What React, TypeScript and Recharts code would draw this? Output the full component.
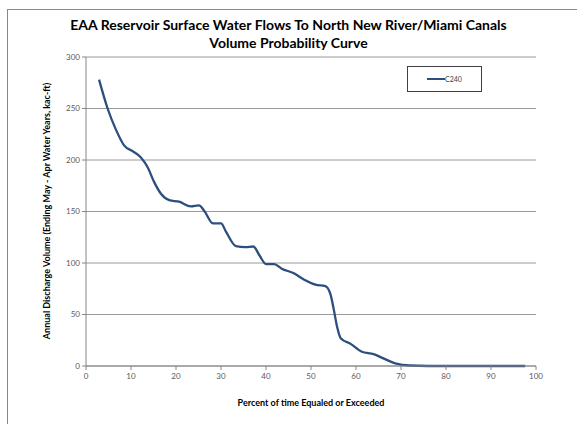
import { CartesianGrid, Legend, Line, LineChart, XAxis, YAxis } from "recharts";

const percentExceeded = [
  2.9, 4.8, 6.6, 8.5, 10.4, 12.2, 13.7, 15.1, 16.7, 18.5, 20.7, 23.3, 25.1,
  26.3, 28.2, 30.0, 31.1, 33.3, 35.4, 37.2, 38.6, 40.0, 41.8, 43.5, 46.2,
  48.4, 51.0, 53.2, 54.3, 55.1, 55.8, 56.6, 58.8, 61.3, 63.9, 66.1, 68.7,
  72.0, 80.0, 90.0, 97.6,
];
const c240Volume = [
  278, 250, 230, 214, 208.5, 202.5, 193, 179, 167, 161, 159.5, 155, 156,
  150.5, 138.5, 138.5, 130.5, 116.5, 115.5, 116, 107, 99, 99, 94.5, 90,
  84, 79, 77.5, 70, 54, 38, 27, 21.5, 13.8, 11.5, 7.4, 2.6, 0.5, 0, 0, 0,
];
const xTicks = [0, 10, 20, 30, 40, 50, 60, 70, 80, 90, 100];
const yTicks = [0, 50, 100, 150, 200, 250, 300];

const chartData = percentExceeded.map((pct, i) => ({
  pct,
  c240: c240Volume[i],
}));

const LINE_COLOR = "#2c4f7e";
const AXIS_COLOR = "#868686";
const TICK_STYLE = { fill: "#595959", fontSize: 8, fontFamily: "Lato" };

function LegendBox() {
  return (
    <div
      style={{
        width: 73,
        height: 24,
        border: "1px solid #404040",
        background: "#fff",
        display: "flex",
        alignItems: "center",
        justifyContent: "center",
        fontFamily: "Lato",
        fontSize: 7,
        color: "#404040",
      }}
    >
      <span
        style={{
          display: "inline-block",
          width: 18,
          height: 2,
          background: LINE_COLOR,
        }}
      />
      <span>C240</span>
    </div>
  );
}

export default function App() {
  return (
    <div
      style={{
        position: "absolute",
        left: 0,
        top: 0,
        width: 577,
        height: 424,
        overflow: "hidden",
        background: "#fff",
        fontFamily: "Lato",
      }}
    >
      <div
        style={{
          position: "absolute",
          left: 7,
          top: 9,
          width: 620,
          height: 460,
          border: "1px solid #888",
        }}
      />
      <div
        style={{
          position: "absolute",
          left: 0,
          top: 16,
          width: 577,
          textAlign: "center",
          fontWeight: 700,
          fontSize: 14,
          lineHeight: "18px",
          color: "#000",
        }}
      >
        EAA Reservoir Surface Water Flows To North New River/Miami Canals
        <br />
        Volume Probability Curve
      </div>
      <div
        style={{
          position: "absolute",
          left: 47 - 150,
          top: 211 - 6,
          width: 300,
          height: 12,
          textAlign: "center",
          fontWeight: 700,
          fontSize: 9,
          lineHeight: "12px",
          transform: "rotate(-90deg)",
          color: "#000",
        }}
      >
        Annual Discharge Volume (Ending May - Apr Water Years, kac-ft)
      </div>
      <div
        style={{
          position: "absolute",
          left: 161,
          top: 397,
          width: 300,
          textAlign: "center",
          fontWeight: 700,
          fontSize: 9,
          lineHeight: "12px",
          color: "#000",
        }}
      >
        Percent of time Equaled or Exceeded
      </div>
      <div style={{ position: "absolute", left: 0, top: 0 }}>
        <LineChart
          width={577}
          height={424}
          data={chartData}
          margin={{ top: 57, right: 41, bottom: 28, left: 56 }}
        >
          <CartesianGrid
            horizontal
            vertical={false}
            stroke="#9a9a9a"
            strokeWidth={1}
          />
          <XAxis
            type="number"
            dataKey="pct"
            domain={[0, 100]}
            ticks={xTicks}
            height={30}
            tick={TICK_STYLE}
            tickSize={4}
            tickMargin={3}
            stroke={AXIS_COLOR}
            allowDataOverflow
          />
          <YAxis
            type="number"
            domain={[0, 300]}
            ticks={yTicks}
            width={30}
            tick={TICK_STYLE}
            tickSize={4}
            tickMargin={2}
            stroke={AXIS_COLOR}
          />
          <Legend
            layout="horizontal"
            verticalAlign="middle"
            align="center"
            content={() => <LegendBox />}
            wrapperStyle={{ position: "absolute", left: 407, top: 66, width: 75 }}
          />
          <Line
            type="monotone"
            dataKey="c240"
            name="C240"
            stroke={LINE_COLOR}
            strokeWidth={2.3}
            dot={false}
            isAnimationActive={false}
          />
        </LineChart>
      </div>
    </div>
  );
}
